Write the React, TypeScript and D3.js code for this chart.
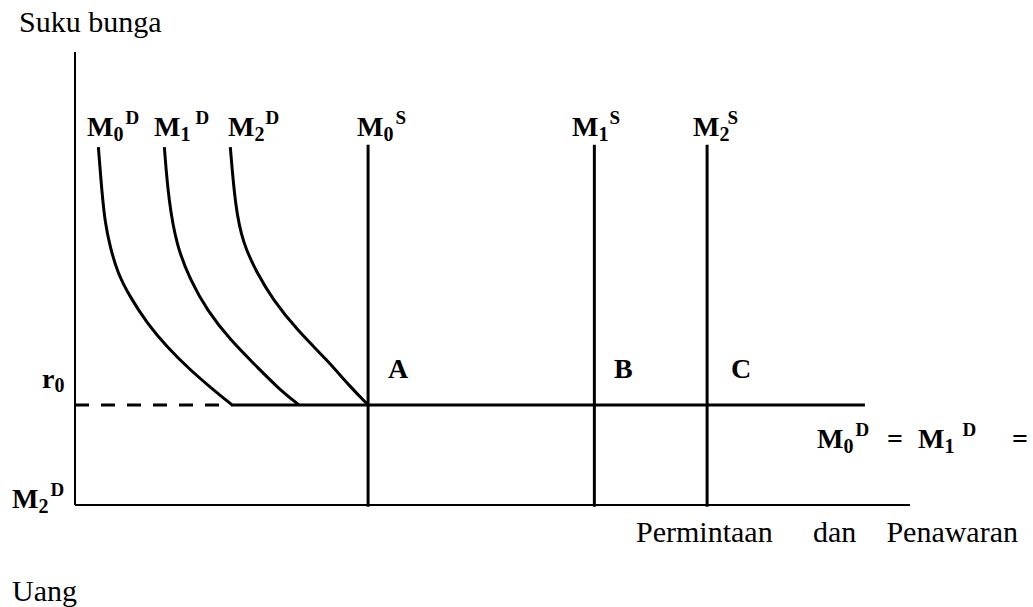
import React from "react";
import * as d3 from "d3";

// ---- data (quantity of money 0..100, interest rate 0..100) ----
const m0DemandQty = [2.8, 3.2, 3.6, 4.2, 5.1, 6.6, 8.6, 11.0, 13.8, 16.2, 18.8];
const m0DemandRate = [79.0, 69.5, 62.3, 57.0, 51.2, 45.9, 40.2, 34.9, 29.8, 26.0, 22.1];
const m1DemandQty = [10.7, 11.2, 12.2, 13.8, 15.8, 18.6, 21.8, 24.2, 26.8];
const m1DemandRate = [79.0, 67.3, 57.0, 49.7, 43.0, 36.4, 30.5, 26.0, 22.1];
const m2DemandQty = [18.6, 19.2, 20.1, 21.8, 23.7, 26.6, 30.2, 33.0, 35.1];
const m2DemandRate = [79.0, 65.8, 57.8, 51.2, 45.3, 38.6, 32.0, 26.0, 22.1];
const supplyQty = [35.1, 62.2, 75.7];
const supplyTopRate = 79.5;
const rateR0 = 22.1;
const trapEndQty = 94.6;
const pointLabels = ["A", "B", "C"];

const W = 1033;
const H = 607;
const x = d3.scaleLinear().domain([0, 100]).range([75, 910]);
const y = d3.scaleLinear().domain([0, 100]).range([505, 52]);

const line = d3
  .line<[number, number]>()
  .x((d) => x(d[0]))
  .y((d) => y(d[1]))
  .curve(d3.curveBasis);

const zip = (a: number[], b: number[]) => a.map((v, i) => [v, b[i]] as [number, number]);
const demandCurves = [
  zip(m0DemandQty, m0DemandRate),
  zip(m1DemandQty, m1DemandRate),
  zip(m2DemandQty, m2DemandRate),
];

const FONT = "'Liberation Serif', 'Times New Roman', serif";

function MLabel({ x: lx, y: ly, sub, sup, dx = 2 }: { x: number; y: number; sub: string; sup: string; dx?: number }) {
  return (
    <text x={lx} y={ly} fontFamily={FONT} fontWeight="bold" fontSize={28} fill="#000">
      <tspan>M</tspan>
      <tspan fontSize={20} dy={5}>{sub}</tspan>
      <tspan fontSize={19} dx={dx} dy={-17}>{sup}</tspan>
    </text>
  );
}

export default function App() {
  return (
    <svg
      width={W}
      height={H}
      style={{ position: "absolute", left: 0, top: 0, display: "block", background: "#fff" }}
    >
      {/* axes */}
      <line x1={x(0)} y1={y(100)} x2={x(0)} y2={y(0)} stroke="#000" strokeWidth={2} />
      <line x1={x(0)} y1={y(0)} x2={x(100)} y2={y(0)} stroke="#000" strokeWidth={2} />

      {/* dashed part of r0 */}
      <line
        x1={x(0)}
        y1={y(rateR0)}
        x2={x(m0DemandQty[m0DemandQty.length - 1])}
        y2={y(rateR0)}
        stroke="#000"
        strokeWidth={3}
        strokeDasharray="14 12"
      />
      {/* solid liquidity trap line */}
      <line
        x1={x(m0DemandQty[m0DemandQty.length - 1])}
        y1={y(rateR0)}
        x2={x(trapEndQty)}
        y2={y(rateR0)}
        stroke="#000"
        strokeWidth={3}
      />

      {/* demand curves */}
      {demandCurves.map((pts, i) => (
        <path key={i} d={line(pts) || ""} fill="none" stroke="#000" strokeWidth={3} />
      ))}

      {/* supply lines */}
      {supplyQty.map((q, i) => (
        <line key={i} x1={x(q)} y1={y(supplyTopRate)} x2={x(q)} y2={y(-0.4)} stroke="#000" strokeWidth={3} />
      ))}

      {/* texts */}
      <text x={19} y={32} fontFamily={FONT} fontSize={30} fill="#000">Suku bunga</text>
      <text x={12} y={601} fontFamily={FONT} fontSize={30} fill="#000">Uang</text>
      <text x={636} y={542} fontFamily={FONT} fontSize={30} fill="#000">Permintaan</text>
      <text x={813} y={542} fontFamily={FONT} fontSize={30} fill="#000">dan</text>
      <text x={1018} y={542} textAnchor="end" fontFamily={FONT} fontSize={30} fill="#000">Penawaran</text>

      <MLabel x={87} y={136} sub="0" sup="D" dx={2} />
      <MLabel x={154} y={136} sub="1" sup="D" dx={5} />
      <MLabel x={228} y={136} sub="2" sup="D" dx={1} />
      <MLabel x={357} y={136} sub="0" sup="S" dx={2} />
      <MLabel x={572} y={136} sub="1" sup="S" dx={1} />
      <MLabel x={693} y={136} sub="2" sup="S" dx={-2} />

      <text x={42} y={388} fontFamily={FONT} fontWeight="bold" fontSize={28} fill="#000">
        <tspan>r</tspan>
        <tspan fontSize={20} dy={4}>0</tspan>
      </text>
      <MLabel x={12} y={508} sub="2" sup="D" dx={2} />

      {pointLabels.map((t, i) => (
        <text key={t} x={[388, 614, 731][i]} y={378} fontFamily={FONT} fontWeight="bold" fontSize={28} fill="#000">
          {t}
        </text>
      ))}

      <MLabel x={817} y={448} sub="0" sup="D" dx={2} />
      <text x={887} y={448} fontFamily={FONT} fontWeight="bold" fontSize={28} fill="#000">=</text>
      <MLabel x={918} y={448} sub="1" sup="D" dx={8} />
      <text x={1012} y={448} fontFamily={FONT} fontWeight="bold" fontSize={28} fill="#000">=</text>
    </svg>
  );
}
